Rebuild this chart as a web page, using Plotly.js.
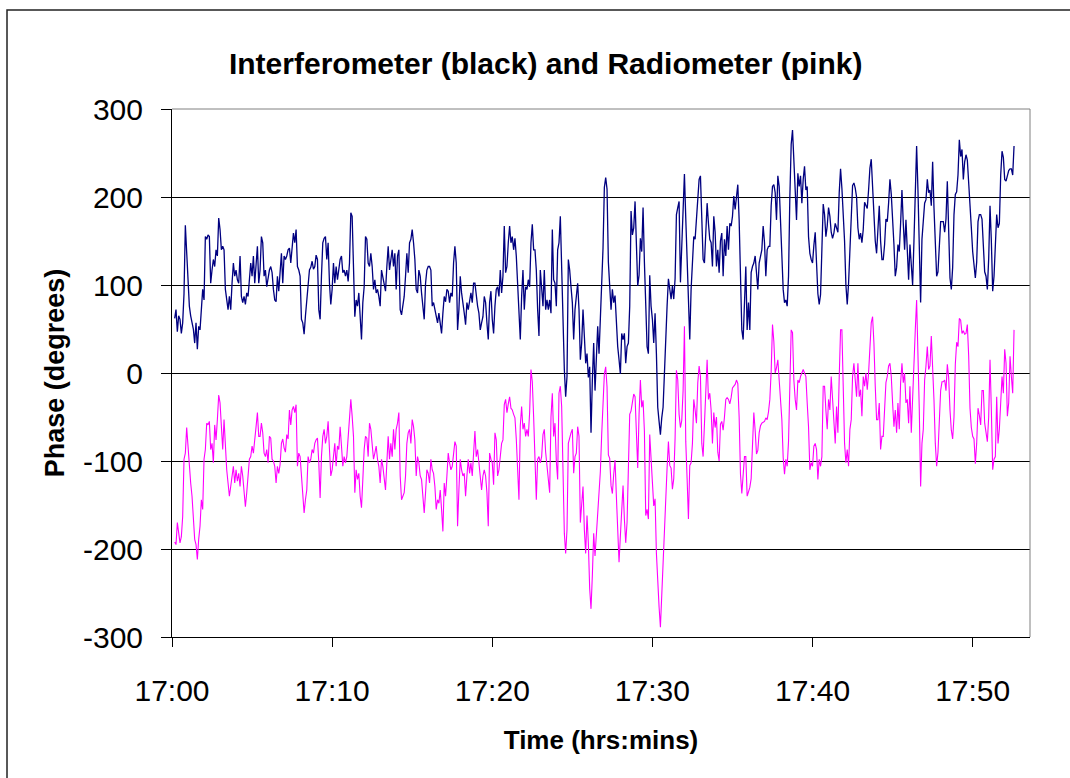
<!DOCTYPE html>
<html>
<head>
<meta charset="utf-8">
<script src="https://cdn.plot.ly/plotly-3.0.1.min.js"></script>
<style>html,body{margin:0;padding:0;background:#fff;}#chart{width:1070px;height:778px;}</style>
</head>
<body>
<div id="chart"></div>
<script>
// Sampling of both records: first sample at 17:00:10, one sample every 5 s
const startSeconds = 10;
const stepSeconds = 5;

// Interferometer phase (degrees) – navy trace
const interferometer = [
 62,72,47,65,61,45,57,90,168,140,100,76,65,57,50,34,57,27,53,49,72,95,83,155,152,157,155,102,117,129,
 121,140,133,176,163,140,144,140,95,83,72,87,72,102,125,110,117,106,102,133,87,80,87,78,91,87,110,125,110,133,
 102,121,144,102,117,155,148,110,117,98,110,117,
 121,114,95,83,81,110,93,117,136,102,133,129,133,140,142,125,144,159,148,163,121,117,110,61,57,44,65,85,108,117,
 120,127,118,121,134,129,72,61,110,148,153,155,129,148,102,78,95,125,102,121,106,121,129,133,114,117,110,117,104,125,
 182,178,125,64,83,76,91,64,38,80,98,155,152,125,121,136,121,95,106,
 91,95,87,76,117,110,102,93,121,144,117,129,140,121,136,95,133,140,72,66,76,87,110,136,114,148,152,163,148,129,
 95,91,117,110,91,72,61,102,117,121,121,117,76,80,72,64,57,68,53,45,68,87,81,95,93,80,91,87,125,144,
 125,49,72,110,91,76,68,55,80,72,83,91,80,102,102,87,76,68,49,
 57,64,87,80,57,38,80,93,61,45,76,95,98,87,117,91,110,167,114,121,148,167,148,155,140,153,133,95,64,38,
 87,117,72,98,95,106,98,148,169,140,140,117,72,42,117,95,76,117,72,83,72,83,68,163,106,102,76,140,148,178,
 117,57,4,-27,-4,129,117,98,80,38,72,87,102,72,15,34,72,42,11,
 22,-5,7,-68,-8,34,-20,22,53,22,62,105,142,211,222,209,126,99,72,95,80,88,49,30,15,-1,45,38,45,11,
 30,34,76,184,157,165,195,153,99,111,153,138,188,126,61,30,22,111,76,61,34,68,22,-39,-55,-70,-51,-39,-1,45,
 76,107,92,84,99,84,107,180,188,195,103,145,199,226,176,126,68,38,
 95,121,155,152,178,197,220,224,174,129,125,163,193,170,152,148,121,178,160,121,140,114,150,159,110,152,133,167,140,170,
 167,178,201,186,197,214,174,100,49,38,72,121,49,80,49,114,121,125,133,110,95,125,133,140,167,148,110,140,144,144,
 190,212,214,205,174,224,212,174,140,95,80,83,76,110,200,260,276,240,224,
 174,227,212,224,193,220,235,208,212,155,136,129,125,145,160,125,90,78,89,140,192,180,155,167,188,178,160,153,159,170,
 163,160,205,232,210,183,150,100,78,102,146,185,213,216,210,200,165,152,159,148,163,194,190,187,208,233,243,212,175,150,
 136,170,190,150,129,129,146,175,172,193,220,203,178,146,110,120,146,138,170,
 208,170,140,174,129,106,146,120,100,150,200,258,208,129,80,152,174,193,197,220,205,208,190,240,188,140,110,115,150,172,
 172,172,160,175,218,160,108,95,120,180,203,206,225,265,246,254,220,240,248,242,220,190,165,138,121,108,126,172,180,180,
 175,140,115,110,95,130,190,150,93,110,140,180,165,170,225,252,245,220,218,224,230,232,232,225,258
];

// Radiometer phase (degrees) – magenta trace
const radiometer = [
 -192,-195,-170,-182,-193,-186,-163,-98,-91,-62,-87,-114,-125,-140,-160,-189,-195,-212,-189,-174,-144,-155,-98,-87,-57,-59,-55,-87,-80,-102,
 -59,-76,-53,-25,-34,-61,-87,-53,-91,-110,-125,-140,-129,-114,-106,-125,-110,-123,-114,-129,-106,-117,-136,-152,-136,-110,-98,-95,-83,-91,
 -72,-61,-45,-72,-72,-57,-68,-91,-95,-87,-102,-72,
 -74,-98,-100,-106,-125,-106,-114,-104,-80,-75,-85,-90,-70,-75,-42,-59,-42,-38,-45,-36,-106,-91,-95,-121,-144,-159,-144,-133,-95,-102,
 -98,-87,-91,-80,-76,-74,-102,-142,-95,-72,-64,-80,-72,-55,-87,-117,-110,-95,-80,-106,-83,-87,-61,-83,-106,-95,-102,-95,-76,-53,
 -30,-49,-72,-136,-110,-121,-114,-140,-153,-121,-87,-72,-74,-95,-57,-64,-83,-98,-91,
 -83,-98,-106,-125,-98,-106,-117,-133,-102,-72,-98,-80,-95,-64,-87,-64,-57,-45,-117,-144,-140,-136,-117,-80,-68,-64,-80,-53,-61,-76,
 -117,-95,-102,-117,-121,-136,-159,-136,-110,-114,-125,-98,-110,-114,-129,-155,-144,-148,-133,-155,-180,-125,-140,-117,-91,-102,-110,-106,-95,-78,
 -83,-174,-133,-98,-110,-117,-114,-140,-117,-98,-114,-102,-117,-95,-66,-95,-87,-102,-117,
 -133,-117,-110,-117,-136,-174,-91,-98,-102,-127,-68,-76,-117,-110,-91,-80,-76,-36,-30,-45,-35,-27,-40,-42,-47,-51,-75,-120,-144,-60,
 -38,-64,-57,-72,-64,-72,-45,4,-10,-50,-90,-144,-98,-95,-102,-95,-70,-64,-90,-106,-120,-136,-50,-23,-72,-57,-100,-121,-23,-15,
 -38,-114,-182,-205,-178,-80,-72,-68,-64,-114,-95,-91,-61,-72,-170,-148,-129,-178,-205,
 -162,-193,-245,-268,-230,-182,-208,-185,-155,-140,-112,-70,-24,-1,7,-16,-93,-97,-128,-137,-115,-99,-140,-190,-215,-185,-151,-128,-166,-193,
 -170,-108,-47,-43,-31,-24,-27,-62,-108,-47,-8,-39,-31,-66,-162,-155,-166,-70,-105,-124,-151,-143,-205,-246,-266,-289,-250,-230,-178,-151,
 -108,-78,-105,-108,-132,-120,-74,3,-8,-47,-62,-54,-20,53,-78,-120,-166,-105,
 -102,-80,-30,-42,-57,-11,8,-4,-80,-95,-57,-11,15,-30,-23,-42,-80,-45,-62,-50,-90,-100,-58,-55,-65,-50,-30,-28,-30,-35,
 -28,-17,-15,-13,-8,-12,-50,-115,-137,-120,-95,-95,-140,-135,-130,-120,-72,-45,-65,-92,-88,-68,-60,-57,-56,-55,-51,-53,-44,-30,
 2,55,36,0,6,15,-8,-30,-53,-96,-115,-98,-106,-78,-4,49,46,-8,-30,
 -42,-8,-11,-4,0,4,0,-4,-34,-61,-110,-102,-106,-83,-80,-87,-121,-98,-106,-95,-15,-15,-42,-64,-30,-42,-4,-27,-61,-80,
 -38,-68,-4,49,49,-23,-80,-102,-87,-106,-64,-53,-4,11,-11,-27,11,-27,-19,-49,-4,-15,0,-19,0,34,57,64,34,-15,
 -53,-53,-34,-87,-72,-72,-38,-11,-4,8,11,-4,-34,-61,-42,-68,-34,-64,-11,
 11,-11,0,-34,-30,-57,-15,-68,-23,0,49,83,34,-42,-129,-80,-64,-8,8,30,4,8,42,8,-30,-80,-106,-90,-60,-20,
 -10,-10,-8,-20,10,-5,-42,-65,-75,-50,10,35,30,62,60,45,48,44,45,55,20,-40,-62,-72,-75,-103,-80,-40,-48,-59,
 -20,-20,-57,-70,-78,-50,15,-42,-110,-98,-95,-27,-80,-64,-27,-4,-23,27,11,-49,-34,19,-4,-23,49
];

// Axis ticks
const timeTickMinutes = [0, 10, 20, 30, 40, 50];
const timeTickLabels = ['17:00', '17:10', '17:20', '17:30', '17:40', '17:50'];
const phaseTickValues = [-300, -200, -100, 0, 100, 200, 300];
const phaseTickLabels = ['-300', '-200', '-100', '0', '100', '200', '300'];

// minutes after 17:00 for each sample
const minutesOf = arr => arr.map((_, i) => (startSeconds + i * stepSeconds) / 60);

const FONT = 'Liberation Sans, Arial, Helvetica, sans-serif';

const traces = [
  {
    x: minutesOf(interferometer), y: interferometer, type: 'scatter', mode: 'lines',
    name: 'Interferometer', line: {color: '#000080', width: 1.3}, hoverinfo: 'x+y'
  },
  {
    x: minutesOf(radiometer), y: radiometer, type: 'scatter', mode: 'lines',
    name: 'Radiometer', line: {color: '#FF00FF', width: 1.1}, hoverinfo: 'x+y'
  }
];

const layout = {
  width: 1070, height: 778,
  margin: {l: 172, r: 40, t: 109, b: 141, pad: 0},
  paper_bgcolor: '#ffffff', plot_bgcolor: '#ffffff',
  showlegend: false,
  font: {family: FONT, color: '#000'},
  title: {
    text: 'Interferometer (black) and Radiometer (pink)',
    font: {family: FONT, size: 30, weight: 'bold', color: '#000'},
    x: 0.51, xref: 'container', xanchor: 'center',
    y: 1 - 63 / 778, yref: 'container', yanchor: 'middle'
  },
  xaxis: {
    range: [0, 53.58], tickvals: timeTickMinutes, ticktext: timeTickLabels,
    ticks: 'outside', ticklen: 9, tickcolor: '#000', tickwidth: 1,
    ticklabelstandoff: 18,
    tickfont: {family: FONT, size: 30, color: '#000'},
    showline: true, linecolor: '#000', linewidth: 1,
    showgrid: false, zeroline: false,
    title: {text: 'Time (hrs:mins)', font: {family: FONT, size: 26, weight: 'bold', color: '#000'}, standoff: 24}
  },
  yaxis: {
    range: [-300, 300], tickvals: phaseTickValues, ticktext: phaseTickLabels,
    ticks: 'outside', ticklen: 10, tickcolor: '#000', tickwidth: 1,
    ticklabelstandoff: 12,
    tickfont: {family: FONT, size: 30, color: '#000'},
    showline: true, linecolor: '#000', linewidth: 1,
    showgrid: true, gridcolor: '#000', gridwidth: 1, zeroline: false,
    title: {text: 'Phase (degrees)', font: {family: FONT, size: 27, weight: 'bold', color: '#000'}, standoff: 10}
  },
  shapes: [
    // plot-area frame (top and right edges grey)
    {type: 'line', xref: 'paper', yref: 'paper', x0: 0, x1: 1, y0: 1, y1: 1, line: {color: '#808080', width: 1}, layer: 'above'},
    {type: 'line', xref: 'paper', yref: 'paper', x0: 1, x1: 1, y0: 0, y1: 1, line: {color: '#808080', width: 1}, layer: 'above'},
    // outer chart border
    {type: 'rect', xref: 'paper', yref: 'paper', x0: -0.1923, x1: 1.06, y0: -0.30, y1: 1.1875, line: {color: '#222', width: 1.5}, fillcolor: 'rgba(0,0,0,0)', layer: 'above'}
  ]
};

Plotly.newPlot('chart', traces, layout, {displayModeBar: false, responsive: false, staticPlot: true});
</script>
</body>
</html>
